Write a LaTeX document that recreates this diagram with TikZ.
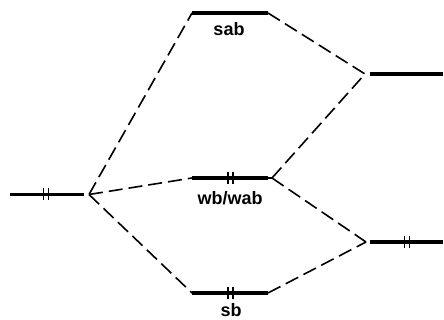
\documentclass[tikz,border=0pt]{standalone}
\usepackage{fontspec}
\setmainfont{Liberation Sans}
\begin{document}
\begin{tikzpicture}[x=1pt,y=-1pt,
  level/.style={line width=3.2pt},
  conn/.style={line width=1.6pt, dash pattern=on 14pt off 6pt},
  tick/.style={line width=1.4pt},
  lbl/.style={font=\bfseries\fontsize{18}{18}\selectfont, anchor=base, inner sep=0pt}]
\useasboundingbox (0,0) rectangle (444,320);
% levels
\coordinate (La) at (10,194.5); \coordinate (Lb) at (84,194.5); \coordinate (Lx) at (89,194.5);
\coordinate (Sa) at (192,13); \coordinate (Sb) at (268,13);
\coordinate (Wa) at (192,178); \coordinate (Wb) at (268,178); \coordinate (Wx) at (272,178);
\coordinate (Ba) at (192,293); \coordinate (Bb) at (268,293);
\coordinate (Tx) at (365,74); \coordinate (Ta) at (370,74); \coordinate (Tb) at (443,74);
\coordinate (Rx) at (366,242); \coordinate (Ra) at (370,242); \coordinate (Rb) at (443,242);
\draw[level] (La) -- (Lb);
\draw[level] (Sa) -- (Sb);
\draw[level] (Wa) -- (Wb);
\draw[level] (Ba) -- (Bb);
\draw[level] (Ta) -- (Tb);
\draw[level] (Ra) -- (Rb);
% electron ticks
\foreach \x/\y in {43.5/194.5, 48.5/194.5, 228/178, 233/178, 228/293, 233/293, 404.5/242, 409.5/242}
  \draw[tick] (\x,\y-6) -- (\x,\y+6);
% connectors
\draw[conn] (Lx) -- (Sa);
\draw[conn] (Lx) -- (Wa);
\draw[conn] (Lx) -- (Ba);
\draw[conn] (Sb) -- (Tx);
\draw[conn] (Wx) -- (Tx);
\draw[conn] (Wx) -- (Rx);
\draw[conn] (Bb) -- (Rx);
\draw[line width=1.6pt] (Wb) -- (Wx);
% labels
\node[lbl] (sab) at (229,36) {sab};
\node[lbl] (wb) at (230,205) {wb/wab};
\node[lbl] (sb) at (231,316) {sb};
\end{tikzpicture}
\end{document}
